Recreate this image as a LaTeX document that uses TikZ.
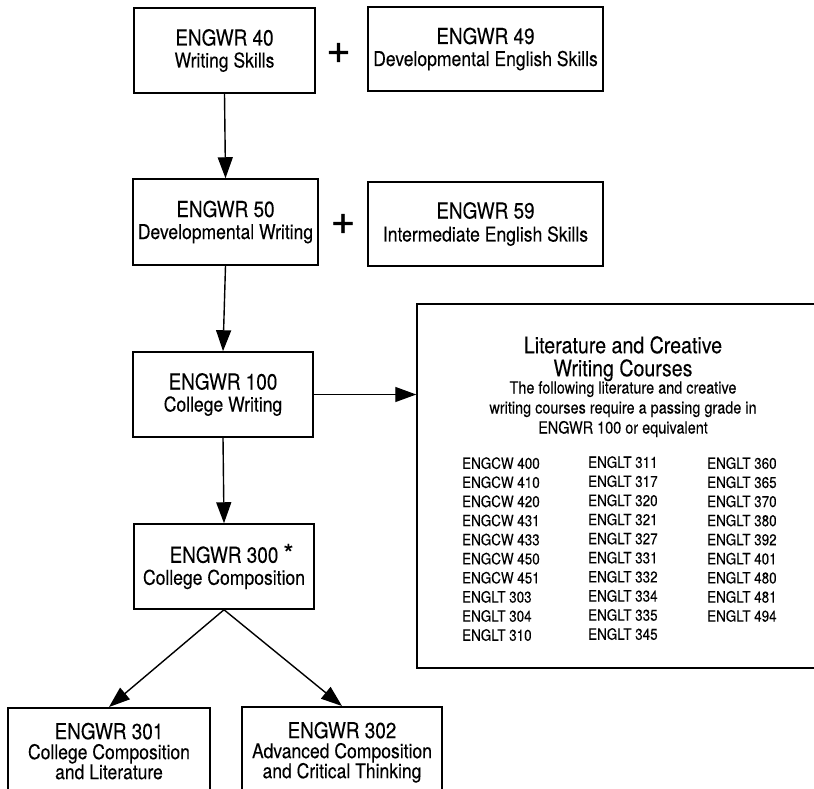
\documentclass[tikz,border=0pt]{standalone}
\usepackage{fontspec}
\setmainfont{TeX Gyre Heros}[FakeStretch=0.86,FakeBold=0.12]
\newfontfamily\plusfont{TeX Gyre Heros}[FakeBold=1.2]
\newfontfamily\starfont{TeX Gyre Heros}[FakeBold=0.3]
\usetikzlibrary{arrows.meta}
\newcommand\crshd[1]{{\fontsize{22}{22}\selectfont #1}}
\begin{document}
\begin{tikzpicture}[x=1pt,y=-1pt,
  box/.style={draw,line width=1.5pt,inner sep=0pt,align=center,font=\fontsize{20.4}{22}\selectfont},
  arr/.style={line width=1.4pt,-{Triangle[length=21pt,width=15pt]}},
  plussign/.style={font=\plusfont\fontsize{42}{42}\selectfont,inner sep=0pt},
  littext/.style={inner sep=0pt,align=center},
  coursecol/.style={anchor=north west,align=left,inner sep=0pt,font=\fontsize{15.6}{19.1}\selectfont}]
\clip (0,0) rectangle (814,788);
\fill[white] (0,0) rectangle (814,788);

% course boxes
\node[box,minimum width=181pt,minimum height=85pt] (b40) at (224.5,50.5) {\crshd{ENGWR 40}\\Writing Skills};
\node[box,minimum width=235pt,minimum height=84pt] (b49) at (485.5,49) {\crshd{ENGWR 49}\\Developmental English Skills};
\node[plussign] (p1) at (338.5,53) {+};

\node[box,minimum width=185pt,minimum height=86pt] (b50) at (225.5,222) {\crshd{ENGWR 50}\\Developmental Writing};
\node[box,minimum width=235pt,minimum height=84pt] (b59) at (485.5,224) {\crshd{\vphantom{Ag}ENGWR 59}\\[1pt]Intermediate English Skills};
\node[plussign] (p2) at (343,224) {+};

\node[box,minimum width=180pt,minimum height=85pt] (b100) at (223,394.5) {\crshd{ENGWR 100}\\College Writing};
\node[box,minimum width=180pt,minimum height=85pt] (b300) at (224,566.5) {\crshd{ENGWR 300\rlap{\hspace{5pt}{\starfont\fontsize{26}{26}\selectfont *}}}\\College Composition};

\node[box,anchor=north,minimum width=202pt,inner ysep=15pt,font=\fontsize{20.4}{20}\selectfont] (b301) at (109,707) {\crshd{ENGWR 301}\\College Composition\\and Literature};
\node[box,anchor=north,minimum width=200pt,inner ysep=15pt,font=\fontsize{20.4}{20}\selectfont] (b302) at (342,706) {\crshd{ENGWR 302}\\Advanced Composition\\and Critical Thinking};

% literature box
\node[draw,line width=1.5pt,minimum width=413pt,minimum height=364pt,inner sep=0pt] (lit) at (623.5,486) {};
\node[littext,anchor=north,font=\fontsize{22.8}{23}\selectfont] (littitle) at (623,336) {Literature and Creative\\Writing Courses};
\node[littext,anchor=north,font=\fontsize{16.8}{20}\selectfont] (litdesc) at (623,381) {The following literature and creative\\writing courses require a passing grade in\\ENGWR 100 or equivalent};
\node[coursecol] (col1) at (462,457) {ENGCW 400\\ENGCW 410\\ENGCW 420\\ENGCW 431\\ENGCW 433\\ENGCW 450\\ENGCW 451\\ENGLT 303\\ENGLT 304\\ENGLT 310};
\node[coursecol] (col2) at (588,456) {ENGLT 311\\ENGLT 317\\ENGLT 320\\ENGLT 321\\ENGLT 327\\ENGLT 331\\ENGLT 332\\ENGLT 334\\ENGLT 335\\ENGLT 345};
\node[coursecol] (col3) at (707,457) {ENGLT 360\\ENGLT 365\\ENGLT 370\\ENGLT 380\\ENGLT 392\\ENGLT 401\\ENGLT 480\\ENGLT 481\\ENGLT 494};

% connectors
\draw[arr] (b40.south) -- (b50.north);
\draw[arr] (b50.south) -- (b100.north);
\draw[arr] (b100.east) -- (b100.east -| lit.west);
\draw[arr] (b100.south) -- (b300.north);
\draw[arr] (b300.south) -- (b301.north);
\draw[arr] (b300.south) -- (b302.north);
\end{tikzpicture}
\end{document}
